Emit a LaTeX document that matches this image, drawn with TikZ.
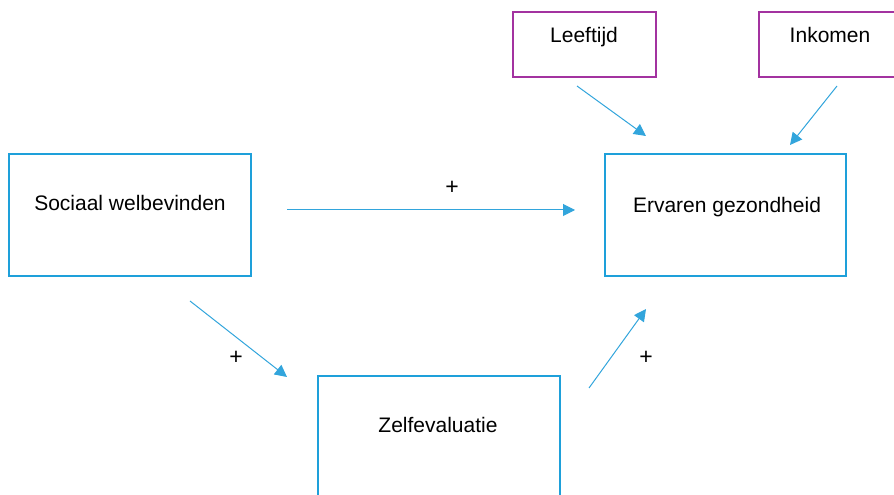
\documentclass[tikz,border=0pt]{standalone}
\usepackage{fontspec}
\setmainfont{Liberation Sans}
\usetikzlibrary{arrows.meta}
\definecolor{boxblue}{RGB}{30,160,218}
\definecolor{arrowblue}{RGB}{50,165,220}
\definecolor{boxpurple}{RGB}{163,50,160}
\tikzset{
  bluebox/.style={draw=boxblue, line width=1.6pt, fill=white},
  purplebox/.style={draw=boxpurple, line width=1.4pt, fill=white},
  lbl/.style={font=\fontsize{21}{25}\selectfont, inner sep=0pt, text=black, anchor=base},
  plus/.style={font=\fontsize{23}{26}\selectfont, inner sep=0pt, text=black},
  conn/.style={draw=arrowblue, line width=1pt, -{Triangle[length=12pt,width=12pt]}}
}
\begin{document}
\begin{tikzpicture}[x=1pt,y=1pt]
\useasboundingbox (0,0) rectangle (894,495);
\clip (0,0) rectangle (894,495);
% boxes (y measured upward: y = 495 - pixel row)
\draw[purplebox] (513,483) rectangle (656,418);
\draw[purplebox] (759,483) rectangle (900,418);
\draw[bluebox] (9,341) rectangle (251,219);
\draw[bluebox] (605,341) rectangle (846,219);
\draw[bluebox] (318,119) rectangle (560,-10);
% texts
\node[lbl] (leeftijd) at (584,452) {Leeftijd};
\node[lbl] (inkomen) at (830,452) {Inkomen};
\node[lbl] (sociaal) at (130,284) {Sociaal welbevinden};
\node[lbl] (ervaren) at (727,282) {Ervaren gezondheid};
\node[lbl] (zelf) at (438,62) {Zelfevaluatie};
% connector end points
\coordinate (a1) at (287,285);
\coordinate (a2) at (575,285);
\coordinate (b1) at (577,409);
\coordinate (b2) at (646,359);
\coordinate (c1) at (837,409);
\coordinate (c2) at (790,350);
\coordinate (d1) at (190,194);
\coordinate (d2) at (287,118);
\coordinate (e1) at (589,107);
\coordinate (e2) at (646,186);
\draw[conn] (a1) -- (a2);
\draw[conn] (b1) -- (b2);
\draw[conn] (c1) -- (c2);
\draw[conn] (d1) -- (d2);
\draw[conn] (e1) -- (e2);
% signs
\node[plus] (p1) at (452,307) {+};
\node[plus] (p2) at (236,137) {+};
\node[plus] (p3) at (646,137) {+};
\end{tikzpicture}
\end{document}
